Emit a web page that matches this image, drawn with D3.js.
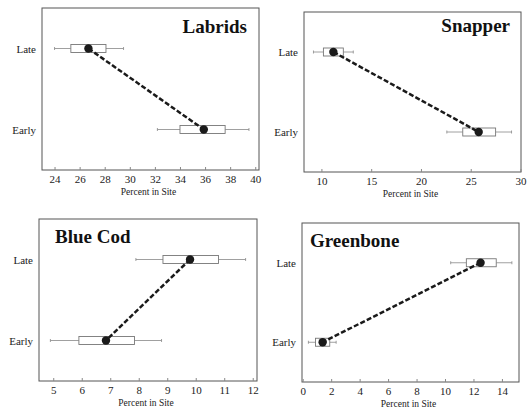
<!DOCTYPE html>
<html>
<head>
<meta charset="utf-8">
<script src="https://cdn.jsdelivr.net/npm/d3@7"></script>
</head>
<body style="margin:0;padding:0;background:#fff">
<svg id="chart" width="531" height="411" font-family="Liberation Serif" style="display:block;background:#fff"></svg>
<script>
// Share of each fish group in the site, early vs late period
const species = ["Labrids", "Snapper", "Blue Cod", "Greenbone"];
const periods = ["Late", "Early"];
// per species: [Late, Early]
const whiskerLow  = [[24.0, 32.2], [9.2, 22.6], [7.9, 4.9], [10.4, 0.4]];
const boxLow      = [[25.3, 34.0], [10.2, 24.2], [8.85, 5.9], [11.5, 0.9]];
const centre      = [[26.7, 35.9], [11.2, 25.8], [9.8, 6.85], [12.5, 1.4]];
const boxHigh     = [[28.1, 37.6], [12.2, 27.5], [10.8, 7.85], [13.6, 1.9]];
const whiskerHigh = [[29.5, 39.5], [13.2, 29.1], [11.75, 8.8], [14.7, 2.35]];
const xDomains    = [[23.0, 40.3], [8.25, 30.05], [4.5, 12.15], [-0.05, 15.2]];
const xTicks      = [
  [24, 26, 28, 30, 32, 34, 36, 38, 40],
  [10, 15, 20, 25, 30],
  [5, 6, 7, 8, 9, 10, 11, 12],
  [0, 2, 4, 6, 8, 10, 12, 14]
];
const axisTitle = "Percent in Site";

const FONT = "Liberation Serif";

// panel frames and title placement
const frames = [
  { x0: 42,  x1: 259, y0: 8,   y1: 170, titleX: 247, titleY: 33,  anchor: "end" },
  { x0: 304, x1: 521, y0: 12,  y1: 172, titleX: 510, titleY: 32,  anchor: "end" },
  { x0: 39,  x1: 257, y0: 219, y1: 381, titleX: 55,  titleY: 243, anchor: "start" },
  { x0: 302, x1: 519, y0: 223, y1: 382, titleX: 310, titleY: 247, anchor: "start" }
];

const svg = d3.select("#chart");

species.forEach((name, i) => {
  const f = frames[i];
  const g = svg.append("g");
  const x = d3.scaleLinear().domain(xDomains[i]).range([f.x0, f.x1]);
  const y = d3.scalePoint().domain(periods).range([f.y0, f.y1]).padding(0.5);

  // frame
  g.append("rect")
    .attr("x", f.x0).attr("y", f.y0)
    .attr("width", f.x1 - f.x0).attr("height", f.y1 - f.y0)
    .attr("fill", "none").attr("stroke", "#555").attr("stroke-width", 1);

  // x axis
  const ax = g.append("g")
    .attr("transform", `translate(0,${f.y1})`)
    .call(d3.axisBottom(x).tickValues(xTicks[i]).tickSizeInner(-3).tickSizeOuter(0).tickPadding(5));
  ax.attr("font-family", FONT).attr("font-size", 11);
  ax.select(".domain").remove();
  ax.selectAll(".tick line").attr("stroke", "#888");
  ax.selectAll(".tick text").attr("font-family", FONT).attr("font-size", 11).attr("fill", "#222");

  g.append("text")
    .attr("x", (f.x0 + f.x1) / 2 - 2).attr("y", f.y1 + 25)
    .attr("text-anchor", "middle")
    .attr("font-family", FONT).attr("font-size", 9.5).attr("fill", "#222")
    .text(axisTitle);

  // y category labels
  periods.forEach(p => {
    g.append("text")
      .attr("x", f.x0 - 6).attr("y", y(p) + 4)
      .attr("text-anchor", "end")
      .attr("font-family", FONT).attr("font-size", 11).attr("fill", "#222")
      .text(p);
  });

  // title
  g.append("text")
    .attr("x", f.titleX).attr("y", f.titleY)
    .attr("text-anchor", f.anchor)
    .attr("font-family", FONT).attr("font-size", 19).attr("font-weight", "bold")
    .attr("fill", "#111")
    .text(name);

  // box plots
  periods.forEach((p, j) => {
    const cy = y(p);
    const lo = whiskerLow[i][j], hi = whiskerHigh[i][j];
    const b0 = boxLow[i][j], b1 = boxHigh[i][j];
    g.append("line")
      .attr("x1", x(lo)).attr("x2", x(b0)).attr("y1", cy).attr("y2", cy)
      .attr("stroke", "#888").attr("stroke-width", 0.8);
    g.append("line")
      .attr("x1", x(b1)).attr("x2", x(hi)).attr("y1", cy).attr("y2", cy)
      .attr("stroke", "#888").attr("stroke-width", 0.8);
    [lo, hi].forEach(v => {
      g.append("line")
        .attr("x1", x(v)).attr("x2", x(v)).attr("y1", cy - 1.5).attr("y2", cy + 1.5)
        .attr("stroke", "#888").attr("stroke-width", 0.8);
    });
    g.append("rect")
      .attr("x", x(b0)).attr("y", cy - 4)
      .attr("width", x(b1) - x(b0)).attr("height", 8)
      .attr("fill", "#fff").attr("stroke", "#777").attr("stroke-width", 0.9);
  });

  // connecting dashed line and central points
  const pts = periods.map((p, j) => [x(centre[i][j]), y(p)]);
  g.append("path")
    .attr("d", d3.line()(pts))
    .attr("fill", "none").attr("stroke", "#1a1a1a")
    .attr("stroke-width", 2.5).attr("stroke-dasharray", "5,2.2");
  g.selectAll("circle.pt").data(pts).enter().append("circle")
    .attr("class", "pt")
    .attr("cx", d => d[0]).attr("cy", d => d[1]).attr("r", 4.2)
    .attr("fill", "#1a1a1a");
});
</script>
</body>
</html>
